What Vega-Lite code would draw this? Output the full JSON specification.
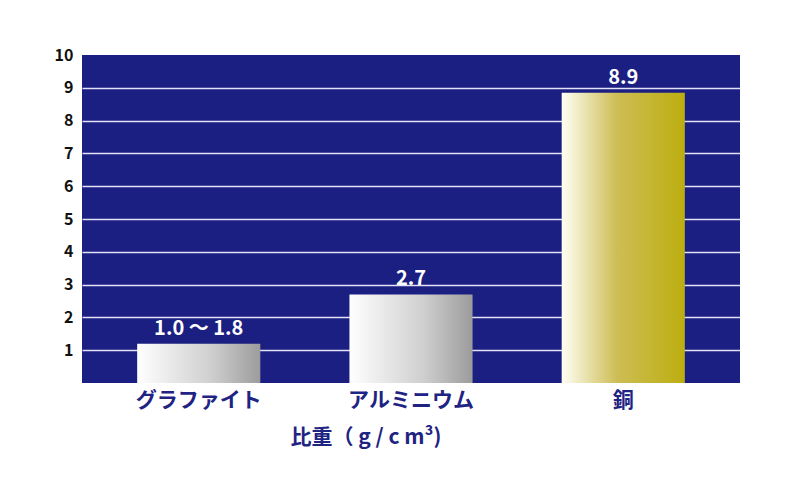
{
  "$schema": "https://vega.github.io/schema/vega-lite/v6.json",
  "autosize": "none",
  "width": 658,
  "height": 328,
  "padding": {"left": 82, "top": 55, "right": 61, "bottom": 118},
  "background": "white",
  "data": {
    "values": [
      {"material": "グラファイト", "value": 1.2, "label": "1.0 〜 1.8"},
      {"material": "アルミニウム", "value": 2.7, "label": "2.7"},
      {"material": "銅", "value": 8.85, "label": "8.9"}
    ]
  },
  "encoding": {
    "x": {
      "field": "material",
      "type": "nominal",
      "sort": null,
      "scale": {"domain": ["グラファイト", "アルミニウム", "銅"], "paddingInner": 0.42, "paddingOuter": 0.26},
      "axis": {
        "labelAngle": 0,
        "labelFont": "Noto Sans CJK JP",
        "labelFontWeight": "bold",
        "labelFontSize": 21,
        "labelColor": "#1f2383",
        "labelPadding": 6,
        "ticks": false,
        "domain": false,
        "title": "比重（ g / c m³)",
        "titleFont": "Noto Sans CJK JP",
        "titleFontWeight": "bold",
        "titleFontSize": 21,
        "titleColor": "#1f2383",
        "titlePadding": 16,
        "titleAnchor": "start",
        "titleAlign": "left",
        "titleX": 208
      }
    },
    "y": {
      "field": "value",
      "type": "quantitative",
      "scale": {"domain": [0, 10], "nice": false},
      "axis": {
        "values": [1, 2, 3, 4, 5, 6, 7, 8, 9, 10],
        "title": null,
        "ticks": false,
        "domain": false,
        "labelFont": "Noto Sans CJK JP",
        "labelFontWeight": "bold",
        "labelFontSize": 16,
        "labelColor": "#111111",
        "labelPadding": 9,
        "gridColor": {"condition": {"test": "datum.value == 10", "value": "transparent"}, "value": "#e2e2f6"},
        "gridWidth": 1.5,
        "gridOpacity": 1
      }
    }
  },
  "layer": [
    {
      "transform": [{"filter": "datum.material == 'グラファイト'"}],
      "mark": {
        "type": "bar",
        "color": {"gradient": "linear", "x1": 0, "x2": 1, "y1": 0, "y2": 0,
          "stops": [{"offset": 0, "color": "#ffffff"}, {"offset": 0.6, "color": "#cfcfcf"}, {"offset": 1, "color": "#9c9c9c"}]}
      }
    },
    {
      "transform": [{"filter": "datum.material == 'アルミニウム'"}],
      "mark": {
        "type": "bar",
        "color": {"gradient": "linear", "x1": 0, "x2": 1, "y1": 0, "y2": 0,
          "stops": [{"offset": 0, "color": "#ffffff"}, {"offset": 0.6, "color": "#cfcfcf"}, {"offset": 1, "color": "#9c9c9c"}]}
      }
    },
    {
      "transform": [{"filter": "datum.material == '銅'"}],
      "mark": {
        "type": "bar",
        "color": {"gradient": "linear", "x1": 0, "x2": 1, "y1": 0, "y2": 0,
          "stops": [{"offset": 0, "color": "#fffff4"}, {"offset": 0.45, "color": "#cdbd55"}, {"offset": 1, "color": "#bcae10"}]}
      }
    },
    {
      "mark": {"type": "text", "baseline": "bottom", "dy": -5, "color": "white", "font": "Noto Sans CJK JP", "fontWeight": "bold", "fontSize": 20},
      "encoding": {"text": {"field": "label"}}
    }
  ],
  "config": {
    "view": {"stroke": null, "fill": "#1c1f82"}
  }
}
